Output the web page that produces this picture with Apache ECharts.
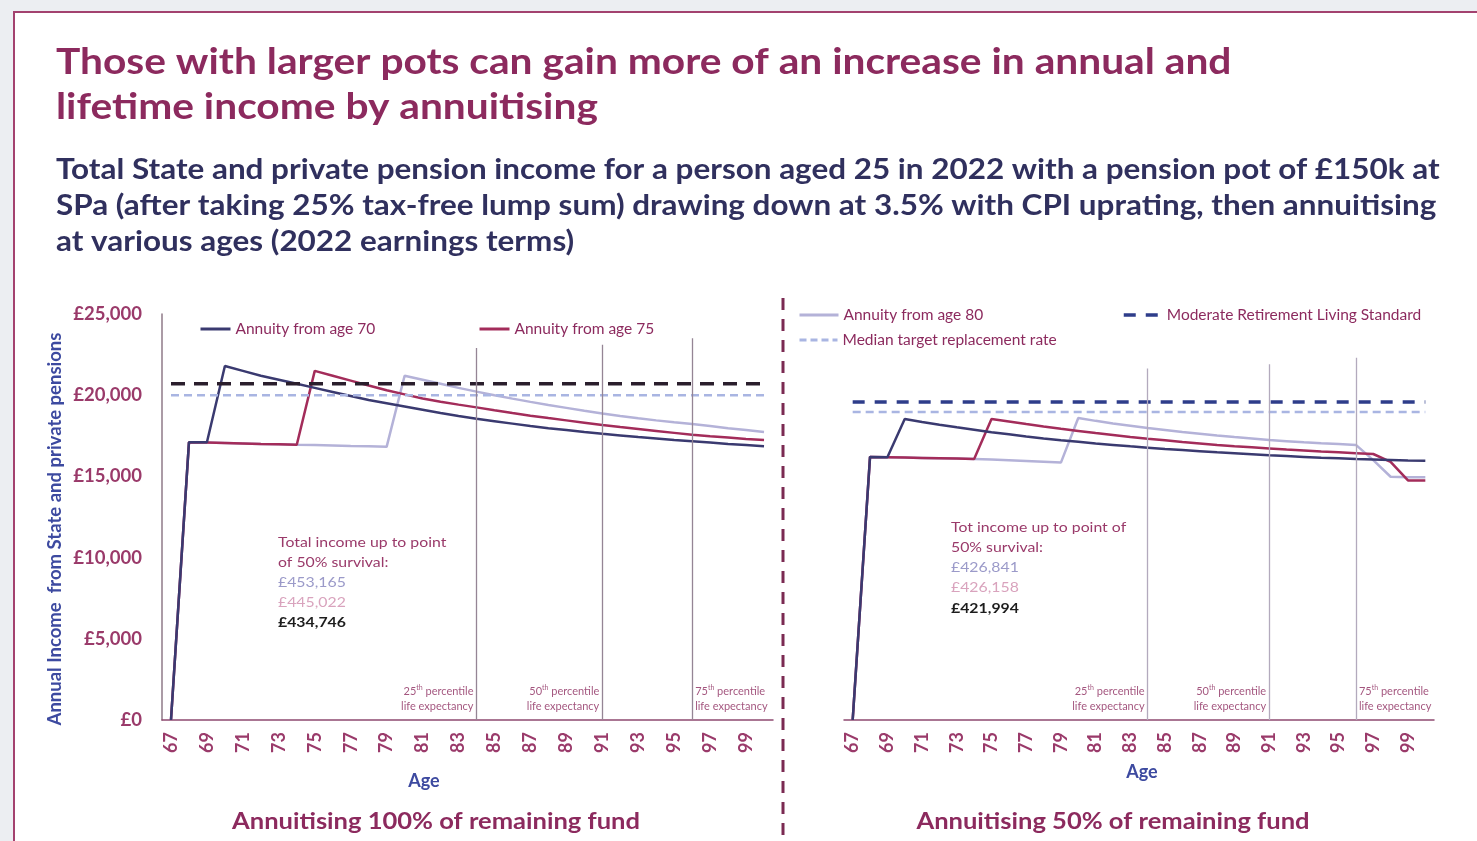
<!DOCTYPE html>
<html><head><meta charset="utf-8">
<script src="https://cdn.jsdelivr.net/npm/echarts@6/dist/echarts.min.js"></script>
<style>html,body{margin:0;padding:0;background:#eceef2}#c{width:1477px;height:841px}</style>
</head><body><div id="c"></div>
<script>
// ---------- DATA ----------
const ages = ['67','68','69','70','71','72','73','74','75','76','77','78','79','80','81','82','83','84','85','86','87','88','89','90','91','92','93','94','95','96','97','98','99','100'];
const yTicks = [0, 5000, 10000, 15000, 20000, 25000];

// Left: annuitising 100% of remaining fund
const left70 = [0,17100,17100,21800,21500,21200,20950,20700,20450,20200,19950,19700,19500,19300,19100,18900,18720,18550,18400,18250,18100,17970,17850,17730,17620,17520,17420,17330,17240,17160,17080,17000,16930,16860];
const left75 = [0,17100,17080,17060,17030,17000,16980,16950,21500,21200,20900,20600,20300,20050,19800,19600,19420,19250,19070,18900,18740,18590,18450,18310,18170,18040,17920,17800,17680,17560,17470,17390,17310,17240];
const left80 = [0,17100,17080,17060,17030,17000,16980,16950,16930,16900,16870,16850,16820,21200,20950,20700,20450,20220,20000,19790,19590,19400,19220,19040,18870,18720,18580,18450,18330,18220,18100,17970,17850,17730];
const leftModerate = 20700;
const leftMedian = 20000;

// Right: annuitising 50% of remaining fund
const right70 = [0,16200,16180,18540,18350,18180,18020,17870,17720,17590,17460,17340,17230,17130,17030,16940,16850,16770,16690,16620,16550,16480,16420,16360,16300,16250,16200,16150,16110,16070,16040,16010,15980,15960];
const right75 = [0,16200,16180,16160,16140,16120,16100,16070,18540,18380,18220,18070,17930,17800,17670,17550,17430,17320,17220,17120,17030,16940,16860,16790,16720,16650,16590,16530,16480,16430,16380,15900,14750,14750];
const right80 = [0,16200,16180,16160,16140,16120,16100,16070,16040,16000,15950,15900,15850,18600,18420,18260,18120,17980,17860,17740,17630,17520,17420,17330,17240,17170,17100,17040,16990,16940,16000,14980,14950,14950];
const rightModerate = 19580;
const rightMedian = 18970;

// Life expectancy percentile markers
const pctAges = ['84','91','96'];
const pctNames = ['25', '50', '75'];
const pctTopsLeft = [22900, 23100, 23500];
const pctTopsRight = [21650, 21900, 22300];

const annotLeft = ['Total income up to point', 'of 50% survival:', '£453,165', '£445,022', '£434,746'];
const annotRight = ['Tot income up to point of', '50% survival:', '£426,841', '£426,158', '£421,994'];

// ---------- STYLE ----------
const F = 'Lato, "Open Sans", sans-serif';
const MAG = '#8c2a5e';
const LBL = '#9a3a6a';
const NAVY = '#3a3a70';
const CRIM = '#a32c5a';
const LAV = '#b4b2d8';
const MED = '#a9b5e2';
const MOD_L = '#2a1e2c';
const MOD_R = '#2e3d8a';

const chart = echarts.init(document.getElementById('c'));

function xAx(g){
  return {gridIndex:g, type:'category', data:ages, boundaryGap:true,
    axisLine:{lineStyle:{color:'#8e4a70', width:1.5}}, axisTick:{show:false},
    axisLabel:{interval:1, rotate:90, color:LBL, fontWeight:'bold', fontSize:18, fontFamily:F, margin:12},
    splitLine:{show:false}};
}
function line(name, data, g, color, w){
  return {name, type:'line', xAxisIndex:g, yAxisIndex:g, data, symbol:'none', showSymbol:false,
    lineStyle:{color, width:w||2.5}, itemStyle:{color}, silent:true, z:3};
}
function hline(name, v, g, color, w, dash){
  return {name, type:'line', xAxisIndex:g, yAxisIndex:g,
    data:[[ages[0], v],[ages[ages.length-1], v]], symbol:'none', showSymbol:false,
    lineStyle:{color, width:w, type:dash}, itemStyle:{color}, silent:true, z:4};
}
function pct(g, tops, color, sides){
  return {type:'scatter', xAxisIndex:g, yAxisIndex:g, symbolSize:0, silent:true, z:5,
    data: pctAges.map((a,i)=>({value:[a,0],
      label:{show:true, position: sides[i]==='l' ? 'left':'right', distance:3, offset:[0,-21],
        align: sides[i]==='l' ? 'right':'left',
        formatter: '{n|'+pctNames[i]+'}{s|th}{n| percentile}\n{n|life expectancy}',
        rich:{n:{fontSize:11, color:'#8c2a5e', fontFamily:F, lineHeight:15},
              s:{fontSize:7, color:'#8c2a5e', fontFamily:F, verticalAlign:'top', lineHeight:15}}}})),
    markLine:{silent:true, symbol:['none','none'], label:{show:false},
      lineStyle:{type:'solid', color, width:1.3},
      data: pctAges.map((a,i)=>[{coord:[a,0]},{coord:[a,tops[i]]}])}
  };
}

const legendText = {color:MAG, fontSize:15.5, fontFamily:F};
function leg(name, left, top, lineStyle, w){
  return {selectedMode:false, orient:'horizontal', left, top, padding:0, itemWidth:w, itemHeight:14, itemGap:0,
    textStyle:legendText, data:[{name, lineStyle, itemStyle:{opacity:0}}]};
}

function txt(text, x, y, size, color, weight, align, sx, extra){
  return Object.assign({type:'text', z:20, silent:true, x, y, scaleX: sx||1,
    style:{text, x:0, y:0, fontSize:size, fontFamily:F, fontWeight:weight||'normal', fill:color,
      textAlign:align||'left', textVerticalAlign:'middle'}}, extra||{});
}

const graphics = [
  {type:'rect', z:-10, silent:true, shape:{x:14,y:12,width:1500,height:900}, style:{fill:'#ffffff', stroke:'#a3426f', lineWidth:2}},
  {type:'line', z:20, silent:true, shape:{x1:783,y1:298,x2:783,y2:841}, style:{stroke:'#7b2a52', lineWidth:3, lineDash:[12,9]}},
  txt('Those with larger pots can gain more of an increase in annual and', 56, 62, 36, MAG, 'bold', 'left', 1.13),
  txt('lifetime income by annuitising', 56, 107, 36, MAG, 'bold', 'left', 1.13),
  txt('Total State and private pension income for a person aged 25 in 2022 with a pension pot of £150k at', 56, 170, 28, '#30305e', 'bold', 'left', 1.123),
  txt('SPa (after taking 25% tax-free lump sum) drawing down at 3.5% with CPI uprating, then annuitising', 56, 206, 28, '#30305e', 'bold', 'left', 1.123),
  txt('at various ages (2022 earnings terms)', 56, 242, 28, '#30305e', 'bold', 'left', 1.123),
  txt('Annual Income  from State and private pensions', 55, 529, 18.5, '#3d4aa0', 'bold', 'center', 1, {rotation:Math.PI/2}),
  txt('Age', 424, 781, 18, '#3d4aa0', 'bold', 'center'),
  txt('Age', 1142, 772, 18, '#3d4aa0', 'bold', 'center'),
  txt('Annuitising 100% of remaining fund', 436, 822, 23, MAG, 'bold', 'center', 1.11),
  txt('Annuitising 50% of remaining fund', 1113, 822, 23, MAG, 'bold', 'center', 1.11)
];
const annotColors = [LBL, LBL, '#9b9ac9', '#d9a3bd', '#1d1d1d'];
const annotWeights = ['normal','normal','normal','normal','bold'];
annotLeft.forEach((t,i)=>graphics.push(txt(t, 278, 542+i*20, 14, annotColors[i], annotWeights[i], 'left', 1.13)));
annotRight.forEach((t,i)=>graphics.push(txt(t, 951, 527+i*20.3, 14, annotColors[i], annotWeights[i], 'left', 1.13)));

chart.setOption({
  backgroundColor:'#eceef2',
  animation:false,
  grid:[{left:162, top:314, width:611, height:406}, {left:844, top:314, width:590, height:406}],
  xAxis:[xAx(0), xAx(1)],
  yAxis:[
    {gridIndex:0, type:'value', min:yTicks[0], max:yTicks[yTicks.length-1], interval:5000,
      axisLine:{show:true, lineStyle:{color:'#8f7a88', width:1.5}}, axisTick:{show:false}, splitLine:{show:false},
      axisLabel:{formatter:v=>'£'+v.toLocaleString('en-GB'), color:LBL, fontWeight:'bold', fontSize:18.5, fontFamily:F, margin:20}},
    {gridIndex:1, type:'value', min:yTicks[0], max:yTicks[yTicks.length-1], interval:5000, show:false}
  ],
  legend:[
    leg('Annuity from age 70', 199, 321, {color:NAVY, width:3, type:'solid'}, 30),
    leg('Annuity from age 75', 478, 321, {color:CRIM, width:3, type:'solid'}, 30),
    leg('Annuity from age 80', 798, 307, {color:LAV, width:3, type:'solid'}, 39),
    leg('Median target replacement rate', 798, 332, {color:MED, width:3, type:[7,4]}, 38),
    leg('Moderate Retirement Living Standard', 1122, 307, {color:MOD_R, width:3.5, type:[12,10]}, 38)
  ],
  graphic: graphics,
  series:[
    pct(0, pctTopsLeft, '#958595', ['l','l','r']),
    pct(1, pctTopsRight, '#b3aabd', ['l','l','r']),
    hline('Moderate Retirement Living Standard', rightModerate, 1, MOD_R, 3.5, [12,10]),
    hline('Median target replacement rate', rightMedian, 1, MED, 2.5, [8,5]),
    hline('Moderate Retirement Living Standard', leftModerate, 0, MOD_L, 3.5, [14,9]),
    hline('Median target replacement rate', leftMedian, 0, MED, 2.5, [8,5]),
    line('Annuity from age 80', left80, 0, LAV),
    line('Annuity from age 75', left75, 0, CRIM),
    line('Annuity from age 70', left70, 0, NAVY),
    line('Annuity from age 80', right80, 1, LAV),
    line('Annuity from age 75', right75, 1, CRIM),
    line('Annuity from age 70', right70, 1, NAVY)
  ]
});
</script></body></html>
